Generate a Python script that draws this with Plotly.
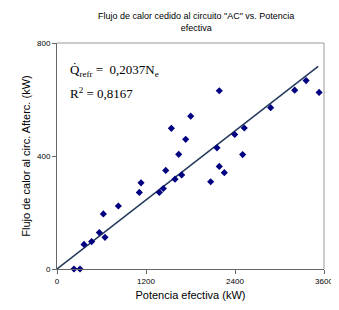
import plotly.graph_objects as go

potencia = [229, 310, 364, 467, 571, 647, 625, 827, 1110, 1133, 1380, 1434, 1466, 1591,
            1681, 1641, 1803, 1542, 1735, 2188, 2157, 2396, 2525, 2503, 2881, 3205, 3359,
            3534, 2188, 2256, 2072]
flujo = [0, 0, 87, 97, 129, 112, 195, 223, 271, 305, 271, 285, 349, 318,
         333, 406, 541, 498, 459, 631, 429, 476, 499, 405, 571, 633, 667,
         625, 363, 341, 309]
pendiente = 0.2037
linea_x = [0, 3522]
linea_y = [pendiente * v for v in linea_x]
x_ticks = [0, 1200, 2400, 3600]
y_ticks = [0, 400, 800]

fig = go.Figure()
fig.add_trace(go.Scatter(x=linea_x, y=linea_y, mode="lines",
                         line=dict(color="#23395B", width=1.5), hoverinfo="skip"))
fig.add_trace(go.Scatter(x=potencia, y=flujo, mode="markers",
                         marker=dict(symbol="diamond", size=5.5, color="#000080"),
                         cliponaxis=False))

fig.update_layout(
    width=339, height=310,
    margin=dict(l=49, r=23, t=35, b=49),
    paper_bgcolor="white", plot_bgcolor="white",
    showlegend=False,
    font=dict(family="Liberation Sans, Arial", color="black"),
    title=dict(text='Flujo de calor cedido al circuito "AC" vs. Potencia<br>efectiva',
               x=0.555, xanchor="center", yref="container", y=0.965, yanchor="top",
               font=dict(size=9)),
    xaxis=dict(range=[0, 3600], tickvals=x_ticks, ticks="outside", ticklen=4,
               tickcolor="#666", showline=True, linecolor="#666", linewidth=1,
               showgrid=False, zeroline=False, tickfont=dict(size=8),
               title=dict(text="Potencia efectiva (kW)", font=dict(size=11), standoff=6)),
    yaxis=dict(range=[0, 800], tickvals=y_ticks, ticks="outside", ticklen=4,
               tickcolor="#666", showline=True, linecolor="#666", linewidth=1,
               showgrid=False, zeroline=False, tickfont=dict(size=8),
               title=dict(text="Flujo de calor al circ. Afterc. (kW)", font=dict(size=11), standoff=4)),
    shapes=[dict(type="line", xref="paper", yref="paper", x0=0, x1=1, y0=1, y1=1,
                 line=dict(color="#999", width=1)),
            dict(type="line", xref="paper", yref="paper", x0=1, x1=1, y0=0, y1=1,
                 line=dict(color="#999", width=1))],
    annotations=[
        dict(text="Q̇<sub>refr</sub> =  0,2037N<sub>e</sub>", xref="paper", yref="paper",
             x=0.04, y=0.88, xanchor="left", yanchor="middle", showarrow=False,
             font=dict(family="Liberation Serif, Times New Roman", size=13)),
        dict(text="R<sup>2</sup> = 0,8167", xref="paper", yref="paper",
             x=0.04, y=0.78, xanchor="left", yanchor="middle", showarrow=False,
             font=dict(family="Liberation Serif, Times New Roman", size=13)),
    ],
)
fig.write_html("out.html")
